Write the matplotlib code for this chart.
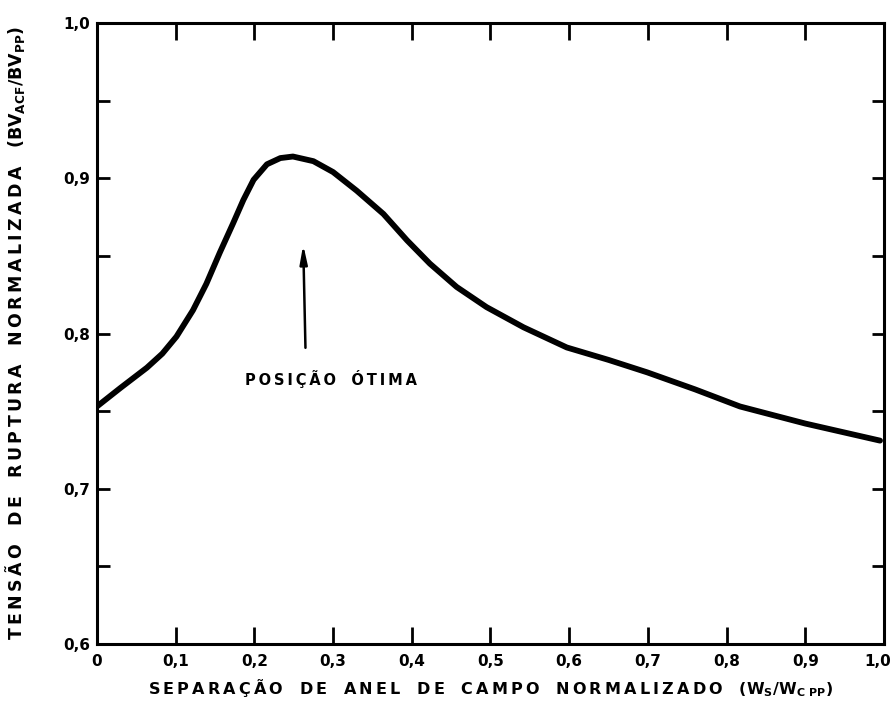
import numpy as np
import matplotlib.pyplot as plt
import matplotlib.transforms as mtransforms
from matplotlib.ticker import MultipleLocator, FixedLocator, FixedFormatter

plt.rcParams['font.family'] = ['DejaVu Sans']
plt.rcParams['font.weight'] = 'bold'
plt.rcParams['mathtext.default'] = 'bf'

# normalized field-ring spacing vs normalized breakdown voltage
sep = [0.0, 0.03, 0.0635, 0.083, 0.101, 0.122, 0.139, 0.156, 0.173, 0.186,
       0.199, 0.216, 0.233, 0.249, 0.275, 0.300, 0.330, 0.364, 0.394, 0.423,
       0.457, 0.495, 0.542, 0.597, 0.65, 0.699, 0.76, 0.817, 0.9, 0.995]
bv = [0.753, 0.765, 0.778, 0.787, 0.798, 0.815, 0.832, 0.852, 0.871, 0.886,
      0.899, 0.909, 0.913, 0.914, 0.911, 0.904, 0.892, 0.877, 0.860, 0.845,
      0.830, 0.817, 0.804, 0.791, 0.783, 0.775, 0.764, 0.753, 0.742, 0.731]

xticks = [0.0, 0.1, 0.2, 0.3, 0.4, 0.5, 0.6, 0.7, 0.8, 0.9, 1.0]
xlabels = ['0', '0,1', '0,2', '0,3', '0,4', '0,5', '0,6', '0,7', '0,8', '0,9', '1,0']
yticks = [0.6, 0.7, 0.8, 0.9, 1.0]
ylabels = ['0,6', '0,7', '0,8', '0,9', '1,0']

opt_x = 0.262
arrow_tail = 0.789
arrow_head = 0.859


def spaced(s, gap='\u2009'):
    # lettering on the original drawing is widely tracked
    return gap.join(s)


fig = plt.figure(figsize=(8.92, 7.08), dpi=100)
ax = fig.add_axes([0.1087, 0.0904, 0.8823, 0.8771])

ax.plot(sep, bv, color='black', lw=4.2, solid_capstyle='round',
        solid_joinstyle='round')

ax.annotate('', xy=(opt_x, arrow_head), xytext=(opt_x + 0.003, arrow_tail),
            arrowprops=dict(arrowstyle='-|>,head_length=1.1,head_width=0.22',
                            color='black', lw=1.8))
ax.text(0.188, 0.771, spaced('POSIÇÃO') + '   ' + spaced('ÓTIMA'),
        fontsize=10.5, fontweight='bold', ha='left', va='center')

ax.set_xlim(0, 1.0)
ax.set_ylim(0.6, 1.0)
ax.xaxis.set_major_locator(FixedLocator(xticks))
ax.xaxis.set_major_formatter(FixedFormatter(xlabels))
ax.yaxis.set_major_locator(FixedLocator(yticks))
ax.yaxis.set_major_formatter(FixedFormatter(ylabels))
ax.yaxis.set_minor_locator(MultipleLocator(0.05))

ax.tick_params(which='both', direction='in', top=True, right=True,
               width=2, colors='black')
ax.tick_params(axis='x', which='major', length=12, pad=7, labelsize=11)
ax.tick_params(axis='y', which='both', length=9, pad=5, labelsize=11)

for s in ax.spines.values():
    s.set_linewidth(2.2)

xl = ('   '.join(spaced(w) for w in ['SEPARAÇÃO', 'DE', 'ANEL', 'DE', 'CAMPO',
                                     'NORMALIZADO'])
      + '   (W$_S$/W$_{C\\ PP}$)')
yl = ('   '.join(spaced(w) for w in ['TENSÃO', 'DE', 'RUPTURA', 'NORMALIZADA'])
      + '   (BV$_{ACF}$/BV$_{PP}$)')
ax.set_xlabel(xl, fontsize=11.5, fontweight='bold', labelpad=6)
ax.set_ylabel(yl, fontsize=12.5, fontweight='bold', labelpad=26)

fig.canvas.draw()
last = ax.get_xticklabels()[-1]
last.set_horizontalalignment('right')
last.set_transform(last.get_transform() +
                   mtransforms.ScaledTranslation(7 / 100, 0, fig.dpi_scale_trans))

fig.savefig('out.png', dpi=100)
